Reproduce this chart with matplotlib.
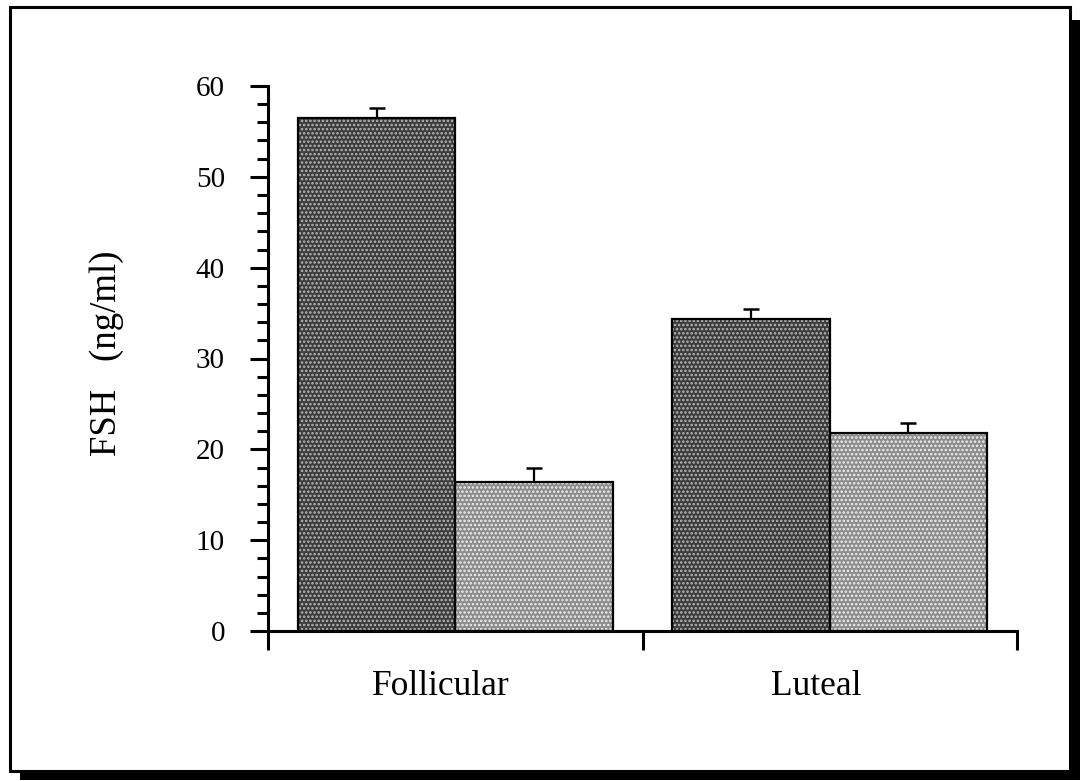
import numpy as np
import matplotlib
matplotlib.use("Agg")
import matplotlib.pyplot as plt
import matplotlib.transforms as mtransforms
from matplotlib.patches import Rectangle

# Data
phases = ["Follicular", "Luteal"]
fsh_dark = [56.5, 34.3]
fsh_dark_err = [1.1, 1.1]
fsh_light = [16.4, 21.8]
fsh_light_err = [1.5, 1.1]

plt.rcParams["font.family"] = ["Liberation Serif", "DejaVu Serif"]
plt.rcParams["hatch.linewidth"] = 1.2

W, H = 1082, 781
fig = plt.figure(figsize=(W / 100, H / 100), dpi=100)

# frame with drop shadow (pixel coords -> figure fraction)
def px(x0, y0, x1, y1):
    return (x0 / W, 1 - y1 / H), (x1 - x0) / W, (y1 - y0) / H

for box in [(20, 771, 1080, 780), (1070, 20, 1080, 780)]:
    xy, w, h = px(*box)
    fig.patches.append(Rectangle(xy, w, h, transform=fig.transFigure,
                                 facecolor="black", edgecolor="none", zorder=-2))
xy, w, h = px(10, 7, 1070, 771)
fig.patches.append(Rectangle(xy, w, h, transform=fig.transFigure,
                             facecolor="white", edgecolor="black", linewidth=2.2, zorder=-1))

ax = fig.add_axes([268 / W, 1 - 631 / H, (1017 - 268) / W, (631 - 86) / H])
ax.patch.set_alpha(0)

x = np.arange(len(phases))
width = 0.42

# hatched fill first, then black outline
ax.bar(x - width / 2, fsh_dark, width, facecolor="#3c3c3c", edgecolor="#b8b8b8",
       hatch="....", linewidth=0, zorder=2)
ax.bar(x + width / 2, fsh_light, width, facecolor="#8c8c8c", edgecolor="#f0f0f0",
       hatch="....", linewidth=0, zorder=2)
ax.bar(x - width / 2, fsh_dark, width, facecolor="none", edgecolor="black",
       linewidth=1.6, zorder=3)
ax.bar(x + width / 2, fsh_light, width, facecolor="none", edgecolor="black",
       linewidth=1.6, zorder=3)

# upper error bars only
ax.errorbar(x - width / 2, fsh_dark, yerr=[np.zeros(2), fsh_dark_err], fmt="none",
            ecolor="black", elinewidth=1.6, capsize=6, capthick=1.8, zorder=1)
ax.errorbar(x + width / 2, fsh_light, yerr=[np.zeros(2), fsh_light_err], fmt="none",
            ecolor="black", elinewidth=1.6, capsize=6, capthick=1.8, zorder=1)

ax.set_xlim(-0.5, 1.5)
ax.set_ylim(0, 60)

for s in ["top", "right"]:
    ax.spines[s].set_visible(False)
for s in ["left", "bottom"]:
    ax.spines[s].set_linewidth(2.2)

ax.set_yticks(np.arange(0, 61, 10))
ax.set_yticks(np.arange(0, 61, 2), minor=True)
ax.tick_params(axis="y", which="major", length=13, width=2.2, labelsize=21, pad=18)
ax.tick_params(axis="y", which="minor", length=8, width=2.2)

ax.set_xticks([-0.5, 0.5, 1.5])
ax.set_xticklabels(["", "", ""])
ax.set_xticks(x, minor=True)
ax.set_xticklabels(phases, minor=True)
ax.tick_params(axis="x", which="major", length=14, width=2.2, direction="out")
ax.tick_params(axis="x", which="minor", length=0, labelsize=25.5, pad=28)

# category labels sit a little left of the group centre in the original
shift = mtransforms.ScaledTranslation(-14 / 100, 0, fig.dpi_scale_trans)
for lab in ax.get_xticklabels(minor=True):
    lab.set_transform(lab.get_transform() + shift)

ax.set_ylabel("FSH   (ng/ml)", fontsize=26.5)
ax.yaxis.set_label_coords(-0.192, 0.51)

fig.savefig("out.png", dpi=100)
